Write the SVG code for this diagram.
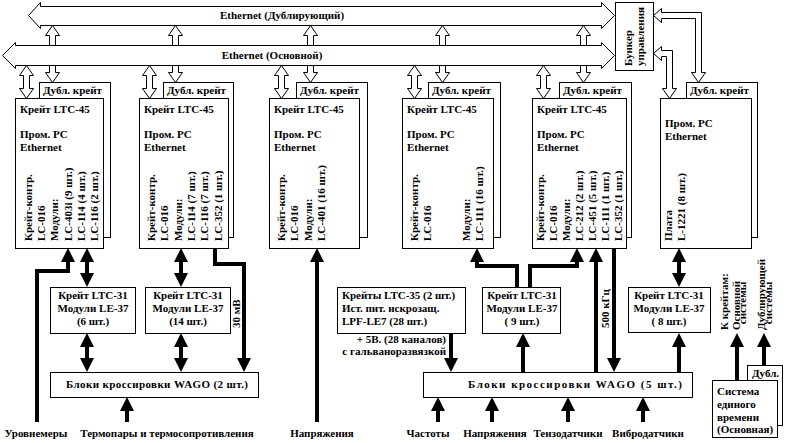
<svg xmlns="http://www.w3.org/2000/svg" width="791" height="443" viewBox="0 0 791 443">
<style>
.t{font-family:"Liberation Serif","Times New Roman",serif;font-weight:bold;font-size:11px;fill:#000}
.m{text-anchor:middle}
.e{text-anchor:end}
.box{fill:#fff;stroke:#000;stroke-width:1}
.hol{fill:#fff;stroke:#000;stroke-width:1}
.th{fill:none;stroke:#000;stroke-width:4;stroke-linejoin:miter}
.a1{marker-end:url(#ah)}
.a2{marker-start:url(#ah);marker-end:url(#ah)}
</style>
<defs>
<marker id="ah" viewBox="0 0 14 14" refX="10" refY="7" markerWidth="14" markerHeight="14" markerUnits="userSpaceOnUse" orient="auto-start-reverse"><path d="M0,0 L14,7 L0,14 Z" fill="#000"/></marker>
</defs>
<rect width="791" height="443" fill="#fff"/>

<g id="bus-dubl">
<polygon class="hol" points="28.5,15.5 40.5,2.5 40.5,6.5 601.5,6.5 601.5,2.5 614.5,15.5 601.5,28.5 601.5,25.5 40.5,25.5 40.5,28.5"/>
<text class="t m" x="282" y="19">Ethernet (Дублирующий)</text>
</g>
<g id="bus-main">
<polygon class="hol" points="2.5,55.5 15.5,42.5 15.5,45.5 601.5,45.5 601.5,42.5 614.5,55.5 601.5,68.5 601.5,65.5 15.5,65.5 15.5,68.5"/>
<text class="t m" x="272" y="59">Ethernet (Основной)</text>
</g>
<g id="bunker">
<rect class="box" x="615.5" y="2.5" width="38" height="68"/>
<text class="t" transform="translate(632,66) rotate(-90)">Бункер</text>
<text class="t" transform="translate(644,66) rotate(-90)">управления</text>
</g>

<g id="crate1">
<rect class="box" x="39.5" y="82.5" width="71" height="155"/>
<text class="t" x="43" y="94">Дубл. крейт</text>
<rect class="box" x="15.5" y="98.5" width="88" height="150"/>
<text class="t" x="20" y="113">Крейт LTC-45</text>
<text class="t" x="20" y="138">Пром. PC</text>
<text class="t" x="20" y="151">Ethernet</text>
<text class="t" transform="translate(32,241) rotate(-90)">Крейт-контр.</text>
<text class="t" transform="translate(45,241) rotate(-90)">LC-016</text>
<text class="t" transform="translate(58,241) rotate(-90)">Модули:</text>
<text class="t" transform="translate(72,241) rotate(-90)">LC-403i (9 шт.)</text>
<text class="t" transform="translate(85,241) rotate(-90)">LC-114 (4 шт.)</text>
<text class="t" transform="translate(98,241) rotate(-90)">LC-116 (2 шт.)</text>
</g>
<g id="crate2">
<rect class="box" x="163.5" y="82.5" width="70" height="155"/>
<text class="t" x="167" y="94">Дубл. крейт</text>
<rect class="box" x="139.5" y="98.5" width="89" height="150"/>
<text class="t" x="144" y="113">Крейт LTC-45</text>
<text class="t" x="144" y="138">Пром. PC</text>
<text class="t" x="144" y="151">Ethernet</text>
<text class="t" transform="translate(155,241) rotate(-90)">Крейт-контр.</text>
<text class="t" transform="translate(168,241) rotate(-90)">LC-016</text>
<text class="t" transform="translate(182,241) rotate(-90)">Модули:</text>
<text class="t" transform="translate(195,241) rotate(-90)">LC-114 (7 шт.)</text>
<text class="t" transform="translate(208,241) rotate(-90)">LC-116 (7 шт.)</text>
<text class="t" transform="translate(222,241) rotate(-90)">LC-352 (1 шт.)</text>
</g>
<g id="crate3">
<rect class="box" x="296.5" y="82.5" width="71" height="155"/>
<text class="t" x="300" y="94">Дубл. крейт</text>
<rect class="box" x="269.5" y="98.5" width="90" height="150"/>
<text class="t" x="274" y="113">Крейт LTC-45</text>
<text class="t" x="274" y="138">Пром. PC</text>
<text class="t" x="274" y="151">Ethernet</text>
<text class="t" transform="translate(285,241) rotate(-90)">Крейт-контр.</text>
<text class="t" transform="translate(298,241) rotate(-90)">LC-016</text>
<text class="t" transform="translate(312,241) rotate(-90)">Модули:</text>
<text class="t" transform="translate(325,241) rotate(-90)">LC-401 (16 шт.)</text>
</g>
<g id="crate4">
<rect class="box" x="428.5" y="82.5" width="72" height="155"/>
<text class="t" x="432" y="94">Дубл. крейт</text>
<rect class="box" x="402.5" y="98.5" width="91" height="150"/>
<text class="t" x="407" y="113">Крейт LTC-45</text>
<text class="t" x="407" y="138">Пром. PC</text>
<text class="t" x="407" y="151">Ethernet</text>
<text class="t" transform="translate(418,241) rotate(-90)">Крейт-контр.</text>
<text class="t" transform="translate(431,241) rotate(-90)">LC-016</text>
<text class="t" transform="translate(470,241) rotate(-90)">Модули:</text>
<text class="t" transform="translate(483,241) rotate(-90)">LC-111 (16 шт.)</text>
</g>
<g id="crate5">
<rect class="box" x="559.5" y="82.5" width="72" height="155"/>
<text class="t" x="563" y="94">Дубл. крейт</text>
<rect class="box" x="532.5" y="98.5" width="94" height="150"/>
<text class="t" x="537" y="113">Крейт LTC-45</text>
<text class="t" x="537" y="138">Пром. PC</text>
<text class="t" x="537" y="151">Ethernet</text>
<text class="t" transform="translate(544,241) rotate(-90)">Крейт-контр.</text>
<text class="t" transform="translate(557,241) rotate(-90)">LC-016</text>
<text class="t" transform="translate(570,241) rotate(-90)">Модули:</text>
<text class="t" transform="translate(583,241) rotate(-90)">LC-212 (2 шт.)</text>
<text class="t" transform="translate(596,241) rotate(-90)">LC-451 (5 шт.)</text>
<text class="t" transform="translate(609,241) rotate(-90)">LC-111 (1 шт.)</text>
<text class="t" transform="translate(622,241) rotate(-90)">LC-352 (1 шт.)</text>
</g>
<g id="crate6">
<rect class="box" x="686.5" y="82.5" width="71" height="155"/>
<text class="t" x="690" y="94">Дубл. крейт</text>
<rect class="box" x="660.5" y="98.5" width="91" height="150"/>
<text class="t" x="665" y="127">Пром. PC</text>
<text class="t" x="665" y="140">Ethernet</text>
<text class="t" transform="translate(672,241) rotate(-90)">Плата</text>
<text class="t" transform="translate(685,241) rotate(-90)">L-1221 (8 шт.)</text>
</g>

<g id="ltc31-1">
<rect class="box" x="50.5" y="287.5" width="85" height="46"/>
<text class="t m" x="93" y="299">Крейт LTC-31</text>
<text class="t m" x="93" y="312">Модули LE-37</text>
<text class="t m" x="93" y="325">(6 шт.)</text>
</g>
<g id="ltc31-2">
<rect class="box" x="145.5" y="287.5" width="85" height="46"/>
<text class="t m" x="188" y="299">Крейт LTC-31</text>
<text class="t m" x="188" y="312">Модули LE-37</text>
<text class="t m" x="188" y="325">(14 шт.)</text>
</g>
<g id="wago1">
<rect class="box" x="50.5" y="372.5" width="208" height="25"/>
<text class="t m" x="157" y="388" textLength="182" lengthAdjust="spacing">Блоки кроссировки WAGO (2 шт.)</text>
</g>
<g id="ltc35">
<rect class="box" x="337.5" y="287.5" width="128" height="46"/>
<text class="t" x="342" y="299">Крейты LTC-35 (2 шт.)</text>
<text class="t" x="342" y="312">Ист. пит. искрозащ.</text>
<text class="t" x="342" y="325">LPF-LE7 (28 шт.)</text>
</g>
<g id="ltc31-3">
<rect class="box" x="482.5" y="287.5" width="78" height="46"/>
<text class="t m" x="522" y="299">Крейт LTC-31</text>
<text class="t m" x="522" y="312">Модули LE-37</text>
<text class="t m" x="522" y="325">( 9 шт.)</text>
</g>
<g id="ltc31-4">
<rect class="box" x="628.5" y="287.5" width="82" height="45"/>
<text class="t m" x="669" y="299">Крейт LTC-31</text>
<text class="t m" x="669" y="312">Модули LE-37</text>
<text class="t m" x="669" y="325">( 8 шт.)</text>
</g>
<g id="wago2">
<rect class="box" x="423.5" y="372.5" width="269" height="25"/>
<text class="t m" x="575" y="388" textLength="214" lengthAdjust="spacing">Блоки кроссировки WAGO (5 шт.)</text>
</g>
<g id="time-system">
<rect class="box" x="747.5" y="365.5" width="35" height="60"/>
<text class="t" x="752" y="377">Дубл.</text>
<rect class="box" x="712.5" y="380.5" width="65" height="57"/>
<text class="t" x="717" y="395">Система</text>
<text class="t" x="717" y="408">единого</text>
<text class="t" x="717" y="421">времени</text>
<text class="t" x="717" y="433">(Основная)</text>
</g>

<g id="connectors">
<polygon class="hol" points="26.5,65.5 33.5,75.5 29.5,75.5 29.5,88.5 33.5,88.5 26.5,98.5 19.5,88.5 23.5,88.5 23.5,75.5 19.5,75.5"/>
<polygon class="hol" points="149.5,65.5 156.5,75.5 152.5,75.5 152.5,88.5 156.5,88.5 149.5,98.5 142.5,88.5 146.5,88.5 146.5,75.5 142.5,75.5"/>
<polygon class="hol" points="281.5,65.5 288.5,75.5 284.5,75.5 284.5,88.5 288.5,88.5 281.5,98.5 274.5,88.5 278.5,88.5 278.5,75.5 274.5,75.5"/>
<polygon class="hol" points="414.5,65.5 421.5,75.5 417.5,75.5 417.5,88.5 421.5,88.5 414.5,98.5 407.5,88.5 411.5,88.5 411.5,75.5 407.5,75.5"/>
<polygon class="hol" points="543.5,65.5 550.5,75.5 546.5,75.5 546.5,88.5 550.5,88.5 543.5,98.5 536.5,88.5 540.5,88.5 540.5,75.5 536.5,75.5"/>
<polygon class="hol" points="52.5,25.5 59.5,35.5 55.5,35.5 55.5,45.5 49.5,45.5 49.5,35.5 45.5,35.5"/>
<polygon class="hol" points="49.5,65.5 55.5,65.5 55.5,72.5 59.5,72.5 52.5,82.5 45.5,72.5 49.5,72.5"/>
<polygon class="hol" points="175.5,25.5 182.5,35.5 178.5,35.5 178.5,45.5 172.5,45.5 172.5,35.5 168.5,35.5"/>
<polygon class="hol" points="172.5,65.5 178.5,65.5 178.5,72.5 182.5,72.5 175.5,82.5 168.5,72.5 172.5,72.5"/>
<polygon class="hol" points="310.5,25.5 317.5,35.5 313.5,35.5 313.5,45.5 307.5,45.5 307.5,35.5 303.5,35.5"/>
<polygon class="hol" points="307.5,65.5 313.5,65.5 313.5,72.5 317.5,72.5 310.5,82.5 303.5,72.5 307.5,72.5"/>
<polygon class="hol" points="442.5,25.5 449.5,35.5 445.5,35.5 445.5,45.5 439.5,45.5 439.5,35.5 435.5,35.5"/>
<polygon class="hol" points="439.5,65.5 445.5,65.5 445.5,72.5 449.5,72.5 442.5,82.5 435.5,72.5 439.5,72.5"/>
<polygon class="hol" points="583.5,25.5 590.5,35.5 586.5,35.5 586.5,45.5 580.5,45.5 580.5,35.5 576.5,35.5"/>
<polygon class="hol" points="580.5,65.5 586.5,65.5 586.5,72.5 590.5,72.5 583.5,82.5 576.5,72.5 580.5,72.5"/>
<polygon class="hol" points="653.5,15.5 661.5,8.5 661.5,12.5 701.5,12.5 701.5,72.5 705.5,72.5 698.5,82.5 691.5,72.5 695.5,72.5 695.5,18.5 661.5,18.5 661.5,22.5"/>
<polygon class="hol" points="653.5,53.5 661.5,46.5 661.5,50.5 672.5,50.5 672.5,88.5 676.5,88.5 669.5,98.5 662.5,88.5 666.5,88.5 666.5,56.5 661.5,56.5 661.5,60.5"/>

<path class="th a1" d="M37,422 V271 H68 V252"/>
<path class="th a2" d="M87,252 V283"/>
<path class="th a2" d="M87,337 V368"/>
<path class="th a2" d="M181,252 V283"/>
<path class="th a2" d="M181,337 V368"/>
<path class="th a1" d="M215,248 V264 H244 V368"/>
<path class="th a1" d="M127,422 V401"/>
<path class="th a1" d="M317,422 V252"/>
<path class="th a1" d="M517,287 V266 H477 V252"/>
<path class="th a1" d="M530,287 V266 H577 V252"/>
<path class="th a1" d="M523,372 V337"/>
<path class="th a1" d="M451,333 V368"/>
<path class="th a1" d="M596,372 V252"/>
<path class="th a1" d="M614,248 V368"/>
<path class="th a1" d="M679,372 V337"/>
<path class="th a2" d="M679,252 V283"/>
<path class="th a1" d="M438,422 V401"/>
<path class="th a1" d="M492,422 V401"/>
<path class="th a1" d="M568,422 V401"/>
<path class="th a1" d="M643,422 V401"/>
<path class="th a1" d="M737,380 V337"/>
<path class="th a1" d="M764,365 V337"/>
<text class="t" transform="translate(240,328) rotate(-90)">30 мВ</text>
<text class="t" transform="translate(609,328) rotate(-90)">500 кГц</text>
<text class="t e" x="446" y="343">+ 5В. (28 каналов)</text>
<text class="t e" x="446" y="355">с гальваноразвязкой</text>
</g>

<g id="labels">
<text class="t m" x="36" y="437">Уровнемеры</text>
<text class="t m" x="167" y="437">Термопары и термосопротивления</text>
<text class="t m" x="322" y="437">Напряжения</text>
<text class="t m" x="428" y="437">Частоты</text>
<text class="t m" x="495" y="437">Напряжения</text>
<text class="t m" x="568" y="437">Тензодатчики</text>
<text class="t m" x="648" y="437">Вибродатчики</text>
<text class="t" transform="translate(728,330) rotate(-90)">К крейтам:</text>
<text class="t" transform="translate(740,330) rotate(-90)">Основной</text>
<text class="t m" transform="translate(746,303) rotate(-90)">системы</text>
<text class="t" transform="translate(765,330) rotate(-90)">Дублирующей</text>
<text class="t m" transform="translate(772,303) rotate(-90)">системы</text>
</g>
</svg>
